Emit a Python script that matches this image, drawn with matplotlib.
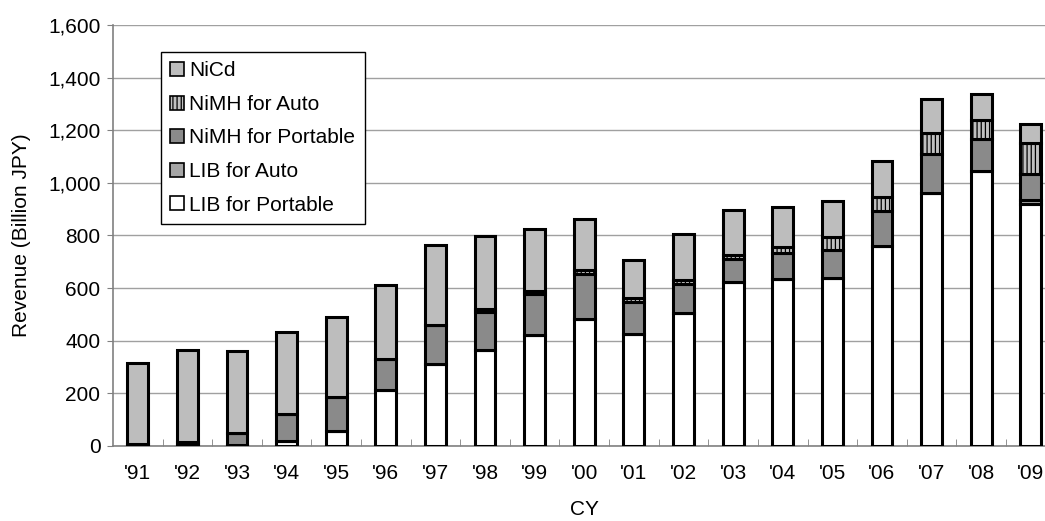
import numpy as np
import matplotlib
matplotlib.use('Agg')
from matplotlib import pyplot as plt
from matplotlib.ticker import FuncFormatter, MultipleLocator

plt.rcParams['font.family'] = ['Liberation Sans', 'DejaVu Sans']
plt.rcParams['hatch.linewidth'] = 0.9

years = ["'91", "'92", "'93", "'94", "'95", "'96", "'97", "'98", "'99", "'00",
         "'01", "'02", "'03", "'04", "'05", "'06", "'07", "'08", "'09"]

# revenue, billion JPY
lib_portable = [0, 2, 5, 20, 56, 211, 312, 366, 423, 481, 427, 506, 623, 633, 638, 760, 963, 1044, 921]
lib_auto = [0, 0, 0, 0, 0, 0, 0, 0, 0, 0, 0, 0, 0, 0, 0, 0, 0, 0, 15]
nimh_portable = [8, 15, 44, 100, 130, 121, 146, 143, 153, 174, 120, 111, 89, 100, 108, 132, 145, 122, 99]
nimh_auto = [0, 0, 0, 0, 0, 0, 0, 13, 13, 15, 15, 15, 15, 25, 48, 55, 83, 72, 116]
nicd = [309, 346, 311, 313, 306, 279, 307, 275, 234, 191, 146, 172, 171, 149, 136, 135, 126, 98, 74]

series = [
    ('LIB for Portable', lib_portable, 'white', None),
    ('LIB for Auto', lib_auto, '#a6a6a6', None),
    ('NiMH for Portable', nimh_portable, '#8a8a8a', None),
    ('NiMH for Auto', nimh_auto, '#c0c0c0', '||||'),
    ('NiCd', nicd, '#bdbdbd', None),
]

fig = plt.figure(figsize=(10.45, 5.21), dpi=100)
ax = fig.add_axes([0.1081, 0.144, 0.902, 0.808])

x = np.arange(len(years))
bottom = np.zeros(len(years))
handles = []
for name, vals, col, hatch in series:
    b = ax.bar(x, vals, 0.42, bottom=bottom, color=col, edgecolor='black',
               linewidth=2.2, hatch=hatch, label=name, zorder=3)
    handles.append(b)
    bottom = bottom + np.array(vals)

ax.set_xlim(-0.5, len(years) - 0.5)
ax.set_ylim(0, 1600)
ax.yaxis.set_major_locator(MultipleLocator(200))
ax.yaxis.set_major_formatter(FuncFormatter(lambda v, p: '{:,.0f}'.format(v)))
ax.grid(axis='y', color='#a0a0a0', linewidth=1, zorder=0)

ax.set_xticks(x)
ax.set_xticklabels(years)
ax.set_xticks(np.arange(len(years)) + 0.5, minor=True)
ax.tick_params(axis='x', which='major', length=0, pad=13, labelsize=15)
ax.tick_params(axis='x', which='minor', direction='in', length=5, color='#808080')
ax.tick_params(axis='y', length=4, color='#808080', labelsize=15, pad=5)

for s in ['top', 'right']:
    ax.spines[s].set_visible(False)
for s in ['left', 'bottom']:
    ax.spines[s].set_color('#808080')
    ax.spines[s].set_linewidth(1.2)

ax.set_xlabel('CY', fontsize=15, labelpad=12)
ax.set_ylabel('Revenue (Billion JPY)', fontsize=15, labelpad=12)

leg = ax.legend(handles[::-1], [h.get_label() for h in handles[::-1]],
                loc='upper left', bbox_to_anchor=(0.051, 0.936), borderaxespad=0,
                fontsize=15, handlelength=0.65, handleheight=0.65, handletextpad=0.25,
                labelspacing=0.7, borderpad=0.45, fancybox=False,
                edgecolor='black', framealpha=1)
leg.get_frame().set_linewidth(1)
for p in leg.get_patches():
    p.set_linewidth(1.2)

fig.savefig('out.png', dpi=100)
